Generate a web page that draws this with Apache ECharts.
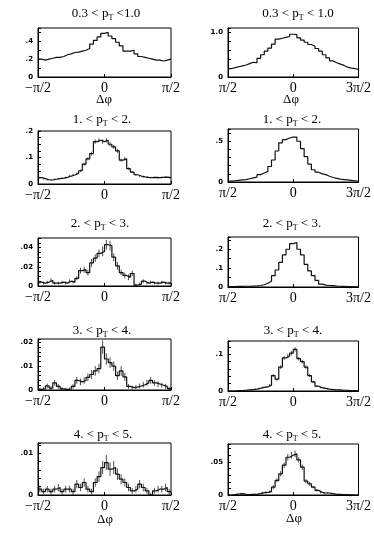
<!DOCTYPE html>
<html>
<head>
<meta charset="utf-8">
<script src="https://cdn.jsdelivr.net/npm/echarts@6/dist/echarts.min.js"></script>
<style>
html, body { margin: 0; padding: 0; background: #fff; }
#main { width: 374px; height: 533px; }
</style>
</head>
<body>
<div id="main"></div>
<script>
// histogram bins: 36 bins of 5 degrees over the 180 degree window
var binStart = -90;
var binWidth = 5;

// near side (left column), -pi/2 .. pi/2
var left1 = [0.20, 0.19, 0.20, 0.21, 0.22, 0.22, 0.23, 0.25, 0.26, 0.275, 0.28, 0.29,
  0.30, 0.32, 0.37, 0.41, 0.45, 0.49, 0.50, 0.46, 0.43, 0.39, 0.35, 0.29,
  0.29, 0.30, 0.26, 0.23, 0.22, 0.21, 0.20, 0.19, 0.19, 0.18, 0.19, 0.20];
var left2 = [0.024, 0.020, 0.016, 0.015, 0.018, 0.020, 0.022, 0.025, 0.030, 0.034, 0.040, 0.050,
  0.075, 0.095, 0.115, 0.160, 0.165, 0.160, 0.165, 0.150, 0.140, 0.125, 0.090, 0.095,
  0.058, 0.045, 0.035, 0.030, 0.027, 0.025, 0.024, 0.025, 0.024, 0.025, 0.026, 0.024];
var left3 = [0.004, 0.003, 0.004, 0.006, 0.003, 0.003, 0.004, 0.003, 0.005, 0.004, 0.008, 0.016,
  0.017, 0.014, 0.024, 0.029, 0.034, 0.036, 0.043, 0.042, 0.030, 0.021, 0.014, 0.011,
  0.009, 0.013, 0.001, 0.002, 0.005, 0.003, 0.004, 0.003, 0.003, 0.004, 0.003, 0.003];
var left4 = [0.0003, 0.0005, 0.0017, 0.0008, 0.003, 0.0015, 0.0005, 0.0003, 0.0004, 0.0015, 0.004, 0.0034,
  0.004, 0.0053, 0.0065, 0.008, 0.009, 0.018, 0.013, 0.0115, 0.010, 0.006, 0.008, 0.0055,
  0.0015, 0.001, 0.0012, 0.0017, 0.0022, 0.003, 0.004, 0.003, 0.0025, 0.002, 0.0015, 0.0006];
var left5 = [0.0014, 0.0008, 0.0014, 0.0008, 0.0014, 0.0018, 0.0008, 0.0014, 0.0014, 0.0008, 0.0026, 0.0018,
  0.003, 0.0014, 0.0008, 0.003, 0.0044, 0.0066, 0.0078, 0.0062, 0.0066, 0.005, 0.0038, 0.003,
  0.0018, 0.001, 0.0014, 0.0026, 0.0018, 0.001, 0.0, 0.001, 0.0014, 0.0014, 0.0018, 0.0008];

// statistical errors of the near side points
var left2Err = [0.003, 0.003, 0.003, 0.003, 0.003, 0.003, 0.003, 0.003, 0.004, 0.004, 0.004, 0.005,
  0.006, 0.006, 0.007, 0.008, 0.008, 0.008, 0.008, 0.008, 0.007, 0.007, 0.006, 0.006,
  0.005, 0.004, 0.004, 0.003, 0.003, 0.003, 0.003, 0.003, 0.003, 0.003, 0.003, 0.003];
var left3Err = [0.0015, 0.0015, 0.0015, 0.002, 0.0015, 0.0015, 0.0015, 0.0015, 0.002, 0.0015, 0.002, 0.003,
  0.003, 0.003, 0.004, 0.004, 0.004, 0.005, 0.005, 0.005, 0.004, 0.004, 0.003, 0.003,
  0.003, 0.003, 0.0015, 0.0015, 0.002, 0.0015, 0.0015, 0.0015, 0.0015, 0.0015, 0.0015, 0.0015];
var left4Err = [0.0006, 0.0008, 0.001, 0.0008, 0.0012, 0.001, 0.0008, 0.0006, 0.0006, 0.001, 0.0014, 0.0014,
  0.0014, 0.0016, 0.0018, 0.002, 0.002, 0.0028, 0.0024, 0.0022, 0.002, 0.0018, 0.002, 0.0016,
  0.001, 0.0008, 0.0008, 0.001, 0.0012, 0.0012, 0.0014, 0.0012, 0.0012, 0.001, 0.001, 0.0008];
var left5Err = [0.0008, 0.0007, 0.0008, 0.0007, 0.0008, 0.0009, 0.0007, 0.0008, 0.0008, 0.0007, 0.001, 0.0009,
  0.001, 0.0008, 0.0007, 0.001, 0.0013, 0.0016, 0.0018, 0.0016, 0.0016, 0.0014, 0.0012, 0.001,
  0.0009, 0.0007, 0.0008, 0.001, 0.0009, 0.0007, 0.0005, 0.0007, 0.0008, 0.0008, 0.0009, 0.0007];

// away side (right column), pi/2 .. 3pi/2
var right1 = [0.19, 0.21, 0.23, 0.25, 0.27, 0.30, 0.33, 0.32, 0.42, 0.50, 0.58, 0.65,
  0.74, 0.85, 0.87, 0.89, 0.91, 0.96, 0.95, 0.88, 0.83, 0.78, 0.73, 0.69,
  0.64, 0.58, 0.50, 0.43, 0.36, 0.32, 0.29, 0.26, 0.22, 0.20, 0.19, 0.17];
var right2 = [0.01, 0.015, 0.02, 0.025, 0.03, 0.04, 0.05, 0.06, 0.09, 0.11, 0.13, 0.19,
  0.27, 0.38, 0.48, 0.52, 0.54, 0.55, 0.55, 0.50, 0.41, 0.31, 0.22, 0.15,
  0.12, 0.10, 0.09, 0.07, 0.055, 0.045, 0.035, 0.03, 0.025, 0.02, 0.015, 0.01];
var right3 = [0.002, 0.002, 0.003, 0.003, 0.004, 0.004, 0.005, 0.006, 0.008, 0.012, 0.02, 0.03,
  0.06, 0.09, 0.13, 0.17, 0.20, 0.23, 0.235, 0.20, 0.17, 0.12, 0.085, 0.06,
  0.035, 0.015, 0.01, 0.008, 0.007, 0.005, 0.004, 0.003, 0.002, 0.002, 0.001, 0.001];
var right4 = [0.0, 0.0, 0.001, 0.001, 0.002, 0.003, 0.004, 0.005, 0.007, 0.01, 0.011, 0.016,
  0.042, 0.032, 0.065, 0.09, 0.095, 0.103, 0.113, 0.088, 0.08, 0.065, 0.042, 0.025,
  0.013, 0.009, 0.007, 0.005, 0.004, 0.003, 0.003, 0.002, 0.002, 0.001, 0.001, 0.0];
var right5 = [0.0, 0.0005, 0.0015, 0.002, 0.001, 0.0005, 0.001, 0.001, 0.002, 0.0035, 0.004, 0.005,
  0.012, 0.022, 0.032, 0.045, 0.057, 0.060, 0.062, 0.053, 0.042, 0.021, 0.017, 0.012,
  0.007, 0.004, 0.003, 0.003, 0.002, 0.001, 0.001, 0.0005, 0.0005, 0.0003, 0.0, 0.0];

var right4Err = [0.0005, 0.0005, 0.001, 0.001, 0.001, 0.0015, 0.0015, 0.0015, 0.002, 0.002, 0.002, 0.003,
  0.004, 0.004, 0.005, 0.005, 0.006, 0.006, 0.006, 0.005, 0.005, 0.005, 0.004, 0.003,
  0.002, 0.002, 0.002, 0.0015, 0.0015, 0.0015, 0.0015, 0.001, 0.001, 0.001, 0.0005, 0.0005];
var right5Err = [0.0005, 0.0008, 0.001, 0.0012, 0.001, 0.0008, 0.001, 0.001, 0.0012, 0.0015, 0.0018, 0.002,
  0.003, 0.003, 0.004, 0.004, 0.005, 0.005, 0.005, 0.004, 0.004, 0.003, 0.003, 0.002,
  0.002, 0.0015, 0.0015, 0.0015, 0.001, 0.001, 0.001, 0.0008, 0.0008, 0.0005, 0.0005, 0.0005];

var xLabelsLeft = ['\u2212\u03c0/2', '0', '\u03c0/2'];
var xLabelsRight = ['\u03c0/2', '0', '3\u03c0/2'];

var titles = [
  ['0.3 < p', 'T', ' <1.0'], ['0.3 < p', 'T', ' < 1.0'],
  ['1. < p', 'T', ' < 2.'], ['1. < p', 'T', ' < 2.'],
  ['2. < p', 'T', ' < 3.'], ['2. < p', 'T', ' < 3.'],
  ['3. < p', 'T', ' < 4.'], ['3. < p', 'T', ' < 4.'],
  ['4. < p', 'T', ' < 5.'], ['4. < p', 'T', ' < 5.']
];

var panels = [
  { data: left1, err: null, ymax: 0.55, step: 0.1, yTicks: [0, 0.2, 0.4], yText: ['0', '.2', '.4'], xText: xLabelsLeft },
  { data: right1, err: null, ymax: 1.1, step: 0.2, yTicks: [0, 1.0], yText: ['0', '1.0'], xText: xLabelsRight },
  { data: left2, err: left2Err, ymax: 0.2, step: 0.025, yTicks: [0, 0.1, 0.2], yText: ['0', '.1', '.2'], xText: xLabelsLeft },
  { data: right2, err: null, ymax: 0.65, step: 0.1, yTicks: [0, 0.5], yText: ['0', '.5'], xText: xLabelsRight },
  { data: left3, err: left3Err, ymax: 0.05, step: 0.005, yTicks: [0, 0.02, 0.04], yText: ['0', '.02', '.04'], xText: xLabelsLeft },
  { data: right3, err: null, ymax: 0.265, step: 0.05, yTicks: [0, 0.1, 0.2], yText: ['0', '.1', '.2'], xText: xLabelsRight },
  { data: left4, err: left4Err, ymax: 0.0214, step: 0.002, yTicks: [0, 0.01, 0.02], yText: ['0', '.01', '.02'], xText: xLabelsLeft },
  { data: right4, err: right4Err, ymax: 0.136, step: 0.02, yTicks: [0, 0.1], yText: ['0', '.1'], xText: xLabelsRight },
  { data: left5, err: left5Err, ymax: 0.0125, step: 0.002, yTicks: [0, 0.01], yText: ['0', '.01'], xText: xLabelsLeft },
  { data: right5, err: right5Err, ymax: 0.077, step: 0.01, yTicks: [0, 0.05], yText: ['0', '.05'], xText: xLabelsRight }
];

// plot boxes: left, top, width, height
var boxes = [
  [38, 28, 133, 49], [228, 28, 131, 49],
  [38, 131, 133, 53], [228, 129, 131, 53],
  [38, 238, 133, 48], [228, 237, 131, 50],
  [38, 339, 133, 51], [228, 341, 131, 50],
  [38, 443, 133, 52], [228, 444, 131, 51]
];
var titlePos = [[106, 14], [298, 14], [102, 120], [292, 120], [100, 224], [292, 224],
  [102, 331], [293, 331], [103, 435], [292, 435]];

var chart = echarts.init(document.getElementById('main'));

var grid = [], xAxis = [], yAxis = [], series = [], graphic = [];

panels.forEach(function (p, i) {
  var b = boxes[i];
  grid.push({ left: b[0], top: b[1], width: b[2], height: b[3], show: true,
    borderColor: '#000', borderWidth: 1, backgroundColor: 'transparent' });

  xAxis.push({
    type: 'value', gridIndex: i, min: -90, max: 90, interval: 90,
    axisLine: { onZero: false, lineStyle: { color: '#000', width: 1 } },
    axisTick: { inside: true, length: 3, lineStyle: { color: '#000' } },
    splitLine: { show: false },
    axisLabel: {
      color: '#000', fontFamily: 'Liberation Serif', fontSize: 14, margin: 4,
      formatter: function (v) {
        if (v === -90) return p.xText[0];
        if (v === 0) return p.xText[1];
        if (v === 90) return p.xText[2];
        return '';
      }
    }
  });

  yAxis.push({
    type: 'value', gridIndex: i, min: 0, max: p.ymax, interval: p.step,
    axisLine: { onZero: false, lineStyle: { color: '#000', width: 1 } },
    axisTick: { inside: true, length: 3, lineStyle: { color: '#000' } },
    splitLine: { show: false },
    axisLabel: {
      color: '#000', fontFamily: 'DejaVu Sans', fontWeight: 'bold', fontSize: 7, margin: 5,
      formatter: function (v) {
        for (var k = 0; k < p.yTicks.length; k++) {
          if (Math.abs(v - p.yTicks[k]) < p.step * 0.01) return p.yText[k];
        }
        return '';
      }
    }
  });

  // step histogram from bin edges
  var pts = p.data.map(function (v, k) { return [binStart + k * binWidth, v]; });
  pts.push([binStart + p.data.length * binWidth, p.data[p.data.length - 1]]);
  series.push({
    type: 'line', xAxisIndex: i, yAxisIndex: i, step: 'end', data: pts,
    symbol: 'none', silent: true, animation: false,
    lineStyle: { color: '#111', width: 1.2 }
  });

  if (p.err) {
    var ebars = p.data.map(function (v, k) {
      return [binStart + (k + 0.5) * binWidth, v, p.err[k]];
    });
    series.push({
      type: 'custom', xAxisIndex: i, yAxisIndex: i, data: ebars, silent: true, animation: false,
      renderItem: function (params, api) {
        var x = api.value(0), y = api.value(1), e = api.value(2);
        var lo = api.coord([x, Math.max(0, y - e)]);
        var hi = api.coord([x, y + e]);
        return { type: 'line', shape: { x1: lo[0], y1: lo[1], x2: hi[0], y2: hi[1] },
          style: { stroke: '#222', lineWidth: 0.8 } };
      }
    });
  }

  var t = titles[i];
  graphic.push({
    type: 'text', x: titlePos[i][0], y: titlePos[i][1],
    style: {
      text: '{a|' + t[0] + '}{s|' + t[1] + '}{a|' + t[2] + '}',
      align: 'center', verticalAlign: 'middle', fill: '#000',
      rich: {
        a: { fontFamily: 'Liberation Serif', fontSize: 13, lineHeight: 16, fill: '#000' },
        s: { fontFamily: 'Liberation Serif', fontSize: 8, padding: [7, 0, 0, 0], fill: '#000' }
      }
    }
  });
});

// delta phi axis titles under the first and last rows
[[104, 100], [291, 100], [105, 520], [294, 519]].forEach(function (pos) {
  graphic.push({
    type: 'text', x: pos[0], y: pos[1],
    style: { text: '\u0394\u03c6', align: 'center', verticalAlign: 'middle',
      fontFamily: 'Liberation Serif', fontSize: 13, fill: '#000' }
  });
});

chart.setOption({
  backgroundColor: '#fff',
  animation: false,
  grid: grid,
  xAxis: xAxis,
  yAxis: yAxis,
  series: series,
  graphic: graphic
});
</script>
</body>
</html>
